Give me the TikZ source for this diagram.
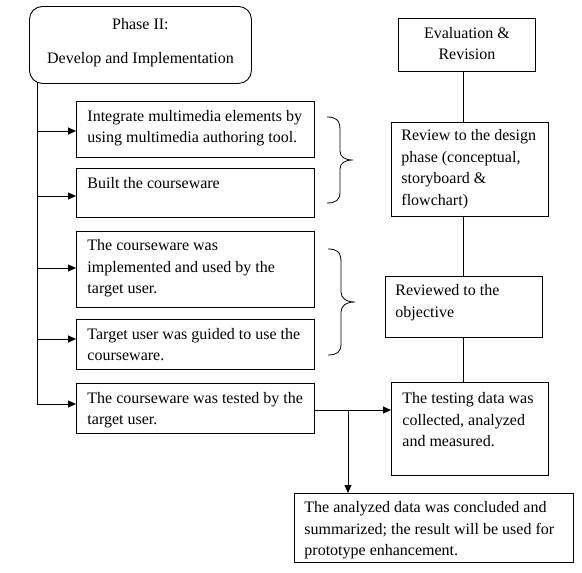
\documentclass[tikz,border=0pt]{standalone}
\usepackage{fontspec}
\setmainfont{Liberation Serif}
\usetikzlibrary{arrows.meta}
\newcommand{\flowbox}[9][]{%
  \node[box, #1, anchor=north west, minimum width={#5-#3}, minimum height={#6-#4}] (#2) at (#3,#4)
    {\parbox[c][\dimexpr#6pt-#4pt\relax][t]{\dimexpr#5pt-#3pt\relax}{#7\rule{0pt}{#8pt}#9}};%
}
\begin{document}
\begin{tikzpicture}[x=1pt,y=-1pt,
  every node/.style={font=\fontsize{16}{21.5}\selectfont, inner sep=0pt},
  box/.style={draw, line width=0.9pt},
  round/.style={rounded corners=13pt},
  line/.style={line width=0.9pt},
  arr/.style={line, -{Triangle[length=8pt,width=7pt]}},
  brace/.style={line width=0.8pt}]
\useasboundingbox (0,0) rectangle (582,573);
% Left column
\flowbox[round]{ph}{29}{6}{251}{83}{\centering}{23.5}{Phase II:\\[12.5pt]Develop and Implementation}
\flowbox{b1}{76}{101}{314}{157}{\raggedright\leftskip=11pt}{20}{Integrate multimedia elements by\\using multimedia authoring tool.}
\flowbox{b2}{76}{168}{314}{217}{\raggedright\leftskip=11pt}{20}{Built the courseware}
\flowbox{b3}{76}{231}{314}{307}{\raggedright\leftskip=11pt}{19.5}{The courseware was\\implemented and used by the\\target user.}
\flowbox{b4}{76}{319}{314}{369}{\raggedright\leftskip=11pt}{20}{Target user was guided to use the\\courseware.}
\flowbox{b5}{76}{383}{314}{433}{\raggedright\leftskip=11pt}{20}{The courseware was tested by the\\target user.}
% Right column
\flowbox{ev}{398}{18}{535}{71}{\centering}{20}{Evaluation \&\\Revision}
\flowbox{rv}{391}{122}{548}{216}{\raggedright\leftskip=10pt}{18.5}{Review to the design\\phase (conceptual,\\storyboard \&\\flowchart)}
\flowbox{rd}{385}{276}{542}{337}{\raggedright\leftskip=10pt}{19.5}{Reviewed to the\\objective}
\flowbox{td}{391}{382}{548}{475}{\raggedright\leftskip=11pt}{21.5}{The testing data was\\collected, analyzed\\and measured.}
\flowbox{fn}{294}{493}{573}{562}{\raggedright\leftskip=10pt}{19.5}{The analyzed data was concluded and\\summarized; the result will be used for\\prototype enhancement.}
% Trunk and branches
\coordinate (t0) at (37,82);
\coordinate (j1) at (37,131);
\coordinate (j2) at (37,196);
\coordinate (j3) at (37,268);
\coordinate (j4) at (37,339);
\coordinate (j5) at (37,404);
\draw[line] (t0) -- (j5);
\draw[arr] (j1) -- (j1 -| b1.west);
\draw[arr] (j2) -- (j2 -| b2.west);
\draw[arr] (j3) -- (j3 -| b3.west);
\draw[arr] (j4) -- (j4 -| b4.west);
\draw[arr] (j5) -- (j5 -| b5.west);
% Right vertical links
\coordinate (vx) at (463,0);
\draw[line] (ev.south -| vx) -- (rv.north -| vx);
\draw[line] (rv.south -| vx) -- (rd.north -| vx);
\draw[line] (rd.south -| vx) -- (td.north -| vx);
% Test link and branch
\coordinate (ky) at (0,410);
\coordinate (br) at (348,410);
\draw[arr] (b5.east |- ky) -- (td.west |- ky);
\draw[arr] (br) -- (br |- fn.north);
% Braces
\draw[brace] (327,117) .. controls (336,117) and (340,120) .. (340,130) -- (340,151)
  .. controls (340,157) and (345,160) .. (353,160)
  .. controls (345,160) and (340,163) .. (340,169) -- (340,192)
  .. controls (340,200) and (336,203) .. (327,203);
\draw[brace] (328,249) .. controls (337,249) and (341,252) .. (341,262) -- (341,292)
  .. controls (341,298) and (346,302) .. (355,302)
  .. controls (346,302) and (341,306) .. (341,312) -- (341,344)
  .. controls (341,352) and (337,355) .. (328,355);
\end{tikzpicture}
\end{document}
